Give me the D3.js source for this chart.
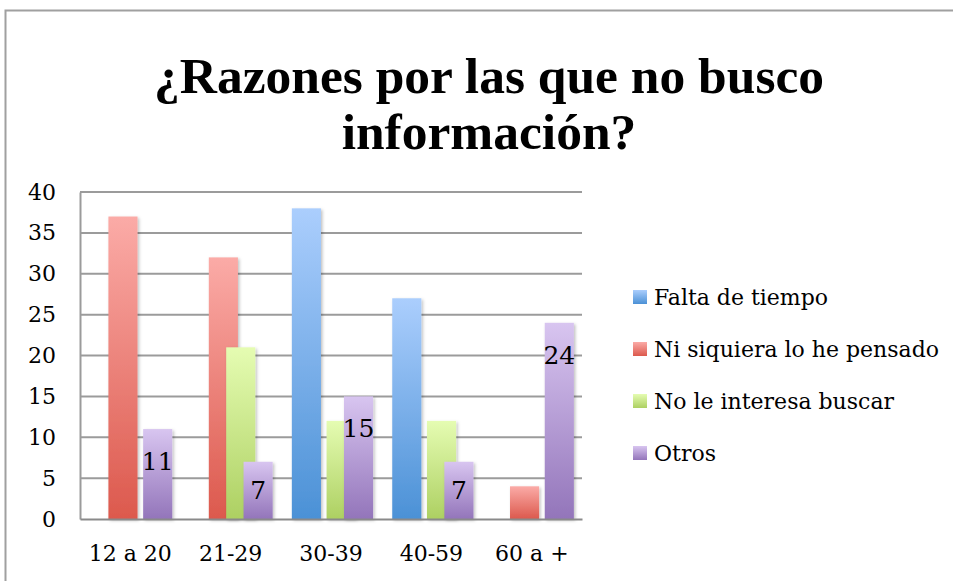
<!DOCTYPE html>
<html>
<head>
<meta charset="utf-8">
<script src="https://cdn.jsdelivr.net/npm/d3@7"></script>
<style>
  body { margin: 0; background: #fff; }
  svg { display: block; }
  text { font-family: "DejaVu Serif", serif; fill: #000; }
</style>
</head>
<body>
<div id="chart"></div>
<script>
// Chart values
var categories = ["12 a 20", "21-29", "30-39", "40-59", "60 a +"];
var seriesNames = ["Falta de tiempo", "Ni siquiera lo he pensado", "No le interesa buscar", "Otros"];
var faltaDeTiempo = [0, 0, 38, 27, 0];
var niSiquiera = [37, 32, 0, 0, 4];
var noInteresa = [0, 21, 12, 12, 0];
var otros = [11, 7, 15, 7, 24];
var yTicks = [0, 5, 10, 15, 20, 25, 30, 35, 40];
var titleLines = ["¿Razones por las que no busco", "información?"];

// top / bottom colours of each series gradient
var colors = [
    {top: "#abcefd", bottom: "#4b91d6"},
    {top: "#fbaba7", bottom: "#dc594d"},
    {top: "#e5fcb2", bottom: "#add062"},
    {top: "#d8c5f0", bottom: "#9375ba"}
];

var main = function () {
    "use strict";

    var width = 953, height = 581;
    var margin = {top: 192, left: 80, right: 371, bottom: 62};
    var plotW = width - margin.left - margin.right;
    var plotH = height - margin.top - margin.bottom;

    var svg = d3.select("#chart").append("svg")
        .attr("width", width)
        .attr("height", height);

    var defs = svg.append("defs");

    colors.forEach(function (c, i) {
        var g = defs.append("linearGradient")
            .attr("id", "grad" + i)
            .attr("x1", 0).attr("y1", 0).attr("x2", 0).attr("y2", 1);
        g.append("stop").attr("offset", "0%").attr("stop-color", c.top);
        g.append("stop").attr("offset", "100%").attr("stop-color", c.bottom);
    });

    var shadow = defs.append("filter").attr("id", "shadow")
        .attr("x", "-20%").attr("y", "-10%").attr("width", "150%").attr("height", "130%");
    shadow.append("feDropShadow")
        .attr("dx", 1.5).attr("dy", 1.5).attr("stdDeviation", 1.5)
        .attr("flood-color", "#000").attr("flood-opacity", 0.25);

    // Outer frame
    svg.append("rect")
        .attr("x", 5.5).attr("y", 10.5)
        .attr("width", 960).attr("height", 600)
        .attr("fill", "none").attr("stroke", "#a0a0a0").attr("stroke-width", 2);

    // Title
    svg.append("text")
        .attr("x", 489).attr("y", 93)
        .attr("text-anchor", "middle")
        .style("font-family", "'Liberation Serif', serif")
        .style("font-size", "51.5px").style("font-weight", "bold")
        .selectAll("tspan")
        .data(titleLines)
        .enter()
        .append("tspan")
        .attr("x", 489)
        .attr("dy", function (d, i) { return i === 0 ? 0 : 56; })
        .text(function (d) { return d; });

    var chart = svg.append("g")
        .attr("transform", "translate(" + margin.left + "," + margin.top + ")");

    var x = d3.scaleBand().domain(categories).range([0, plotW]);
    var y = d3.scaleLinear().domain([0, 40]).range([plotH, 0]);

    // Gridlines
    chart.append("g")
        .selectAll("line")
        .data(yTicks.slice(1))
        .enter()
        .append("line")
        .attr("x1", 0).attr("x2", plotW)
        .attr("y1", function (d) { return y(d); })
        .attr("y2", function (d) { return y(d); })
        .attr("stroke", "#9b9b9b").attr("stroke-width", 2);

    // Y axis
    var yAxis = chart.append("g")
        .call(d3.axisLeft(y).tickValues(yTicks).tickSize(0).tickPadding(24));
    yAxis.attr("font-family", null).attr("font-size", null);
    yAxis.select(".domain").attr("stroke", "#9b9b9b").attr("stroke-width", 2);
    yAxis.selectAll("text").style("font-size", "22px");

    // Bars
    var series = [faltaDeTiempo, niSiquiera, noInteresa, otros];
    var bw = x.bandwidth();
    var barW = bw * 0.29, step = bw * 0.173, start = bw * 0.11;

    series.forEach(function (values, si) {
        var data = values.map(function (v, i) { return {cat: categories[i], value: v}; })
            .filter(function (d) { return d.value > 0; });
        chart.append("g")
            .selectAll("rect")
            .data(data)
            .enter()
            .append("rect")
            .attr("x", function (d) { return x(d.cat) + start + step * si; })
            .attr("y", function (d) { return y(d.value); })
            .attr("width", barW)
            .attr("height", function (d) { return y(0) - y(d.value); })
            .attr("fill", "url(#grad" + si + ")")
            .attr("filter", "url(#shadow)");
    });

    // Data labels on "Otros"
    chart.append("g")
        .selectAll("text")
        .data(otros.map(function (v, i) { return {cat: categories[i], value: v}; }))
        .enter()
        .append("text")
        .attr("x", function (d) { return x(d.cat) + start + step * 3 + barW / 2; })
        .attr("y", function (d) { return Math.min(y(d.value) + 32, (y(d.value) + y(0)) / 2); })
        .attr("dy", "0.36em")
        .attr("text-anchor", "middle")
        .style("font-size", "25px")
        .text(function (d) { return d.value; });

    // X axis
    var xAxis = chart.append("g")
        .attr("transform", "translate(0," + plotH + ")")
        .call(d3.axisBottom(x).tickSize(0).tickPadding(26));
    xAxis.attr("font-family", null).attr("font-size", null);
    xAxis.select(".domain").attr("stroke", "#8a8a8a").attr("stroke-width", 2);
    xAxis.selectAll("text").style("font-size", "22px");

    // Legend
    var legend = svg.append("g")
        .selectAll("g")
        .data(seriesNames)
        .enter()
        .append("g")
        .attr("transform", function (d, i) { return "translate(633," + (297 + i * 52) + ")"; });

    legend.append("rect")
        .attr("x", 0).attr("y", -7)
        .attr("width", 14).attr("height", 14)
        .attr("fill", function (d, i) { return "url(#grad" + i + ")"; });

    legend.append("text")
        .attr("x", 21).attr("y", 0)
        .attr("dy", "0.36em")
        .style("font-size", "22px")
        .text(function (d) { return d; });
};

main();
</script>
</body>
</html>
